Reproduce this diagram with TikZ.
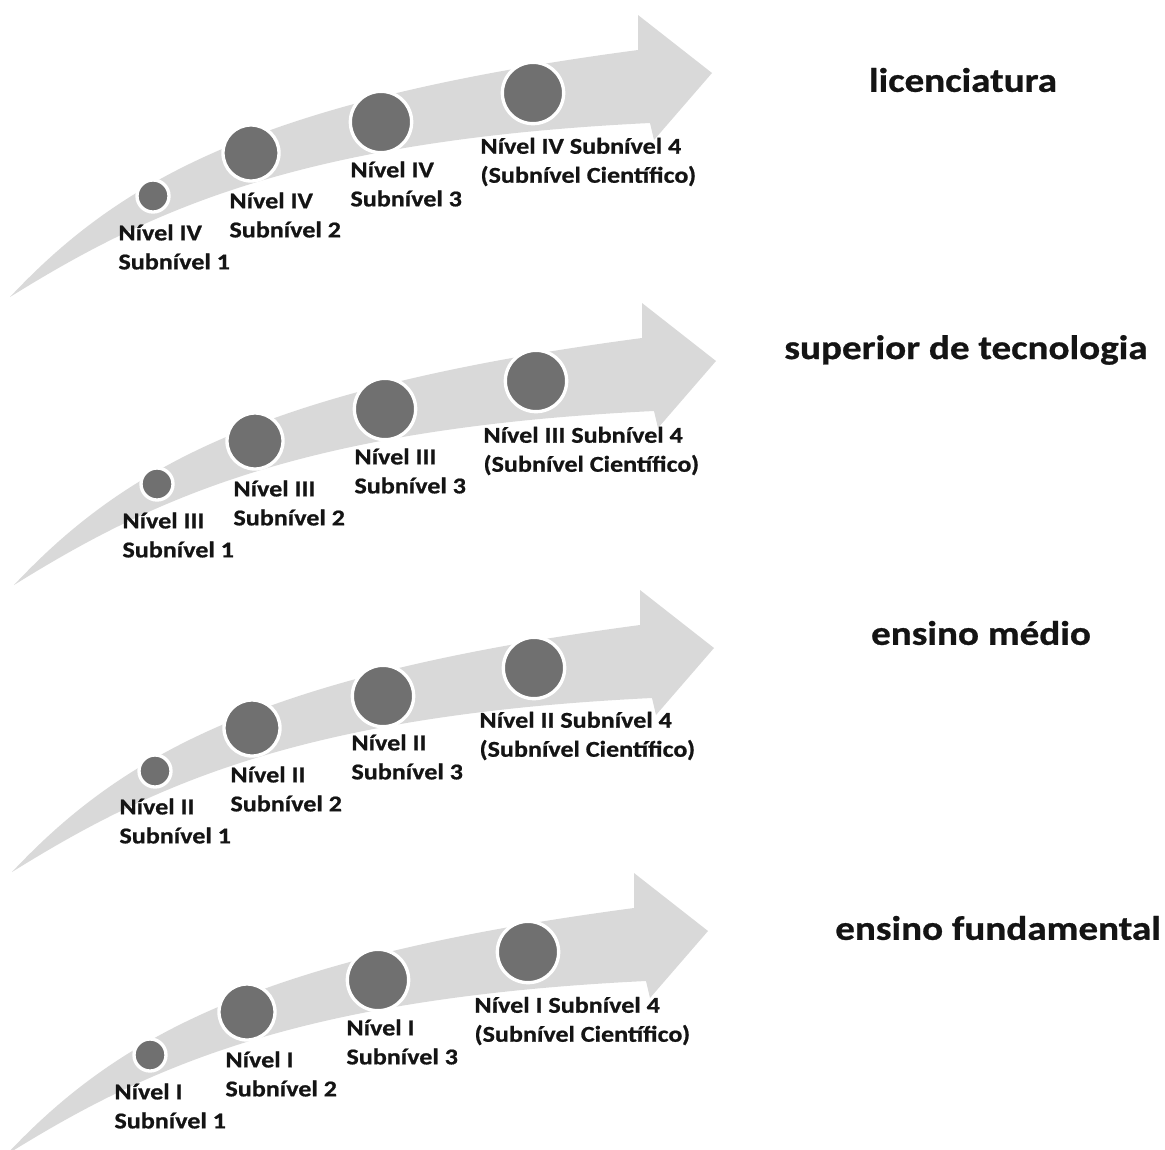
\documentclass[tikz,border=0pt]{standalone}
\usepackage{fontspec}
\setmainfont{Carlito}[FakeStretch=1.15, BoldFeatures={FakeBold=0.8}]
\definecolor{arrowgray}{RGB}{217,217,217}
\definecolor{dotgray}{RGB}{112,112,112}
\definecolor{inkgray}{RGB}{20,20,20}
\tikzset{every picture/.style={line width=0.75pt}}
\tikzset{
  dot/.style={circle, draw=white, line width=2.5pt, fill=dotgray, inner sep=0pt},
  dotA/.style={dot, minimum size=24pt},
  dotB/.style={dot, minimum size=42pt},
  dotC/.style={dot, minimum size=46pt},
  lbl/.style={anchor=west, align=left, inner sep=0pt, text=inkgray,
    font=\fontsize{17}{21.75}\selectfont\bfseries},
  ttl/.style={inner sep=0pt, text=inkgray, font=\fontsize{25.5}{30}\selectfont\bfseries}
}

\begin{document}
\begin{tikzpicture}[x=0.75pt,y=0.75pt,yscale=-1,xscale=1]
	\useasboundingbox (0,0) rectangle (1165,1150);

	%Shape: Curved Arrow [licenciatura]
	\draw [fill=arrowgray, draw=none] (10,297) .. controls (120,180) and (260,100) .. (638,50) -- (638,15) -- (712,73) -- (654,140) -- (650,123) .. controls (300,140) and (150,210) .. (10,297) -- cycle ;
	%Shape: Curved Arrow [superior de tecnologia]
	\draw [fill=arrowgray, draw=none] (14,585) .. controls (124,468) and (264,388) .. (642,338) -- (642,303) -- (716,361) -- (658,428) -- (654,411) .. controls (304,428) and (154,498) .. (14,585) -- cycle ;
	%Shape: Curved Arrow [ensino medio]
	\draw [fill=arrowgray, draw=none] (12,872) .. controls (122,755) and (262,675) .. (640,625) -- (640,590) -- (714,648) -- (656,715) -- (652,698) .. controls (302,715) and (152,785) .. (12,872) -- cycle ;
	%Shape: Curved Arrow [ensino fundamental]
	\draw [fill=arrowgray, draw=none] (6,1155) .. controls (116,1038) and (256,958) .. (634,908) -- (634,873) -- (708,931) -- (650,998) -- (646,981) .. controls (296,998) and (146,1068) .. (6,1155) -- cycle ;

	%Shape: Circles [Nivel IV]
	\draw (153,196) node [dotA] (d41) {};
	\draw (251,153) node [dotB] (d42) {};
	\draw (381,122) node [dotC] (d43) {};
	\draw (533,93) node [dotC] (d44) {};
	%Shape: Circles [Nivel III]
	\draw (157,484) node [dotA] (d31) {};
	\draw (255,441) node [dotB] (d32) {};
	\draw (385,409) node [dotC] (d33) {};
	\draw (536,381) node [dotC] (d34) {};
	%Shape: Circles [Nivel II]
	\draw (155,771) node [dotA] (d21) {};
	\draw (252,728) node [dotB] (d22) {};
	\draw (383,696) node [dotC] (d23) {};
	\draw (534,668) node [dotC] (d24) {};
	%Shape: Circles [Nivel I]
	\draw (150,1055) node [dotA] (d11) {};
	\draw (247,1012) node [dotB] (d12) {};
	\draw (378,980) node [dotC] (d13) {};
	\draw (528,952) node [dotC] (d14) {};

	% Text Node
	\draw (118,247) node [lbl] (n41) {Nível IV\\Subnível 1};
	% Text Node
	\draw (229,215) node [lbl] (n42) {Nível IV\\Subnível 2};
	% Text Node
	\draw (350,184) node [lbl] (n43) {Nível IV\\Subnível 3};
	% Text Node
	\draw (480,162) node [lbl] (n44) {Nível IV Subnível 4\\(Subnível Científico)};
	% Text Node
	\draw (122,535) node [lbl] (n31) {Nível III\\Subnível 1};
	% Text Node
	\draw (233,503) node [lbl] (n32) {Nível III\\Subnível 2};
	% Text Node
	\draw (354,471) node [lbl] (n33) {Nível III\\Subnível 3};
	% Text Node
	\draw (483,451) node [lbl] (n34) {Nível III Subnível 4\\(Subnível Científico)};
	% Text Node
	\draw (119,821) node [lbl] (n21) {Nível II\\Subnível 1};
	% Text Node
	\draw (230,789) node [lbl] (n22) {Nível II\\Subnível 2};
	% Text Node
	\draw (351,757) node [lbl] (n23) {Nível II\\Subnível 3};
	% Text Node
	\draw (479,736) node [lbl] (n24) {Nível II Subnível 4\\(Subnível Científico)};
	% Text Node
	\draw (114,1106) node [lbl] (n11) {Nível I\\Subnível 1};
	% Text Node
	\draw (225,1074) node [lbl] (n12) {Nível I\\Subnível 2};
	% Text Node
	\draw (346,1042) node [lbl] (n13) {Nível I\\Subnível 3};
	% Text Node
	\draw (474,1021) node [lbl] (n14) {Nível I Subnível 4\\(Subnível Científico)};

	% Text Node
	\draw (963,80) node [ttl] (t4) {licenciatura};
	% Text Node
	\draw (966,350) node [ttl] (t3) {superior de tecnologia};
	% Text Node
	\draw (981,633) node [ttl] (t2) {ensino médio};
	% Text Node
	\draw (998,928) node [ttl] (t1) {ensino fundamental};

\end{tikzpicture}
\end{document}
